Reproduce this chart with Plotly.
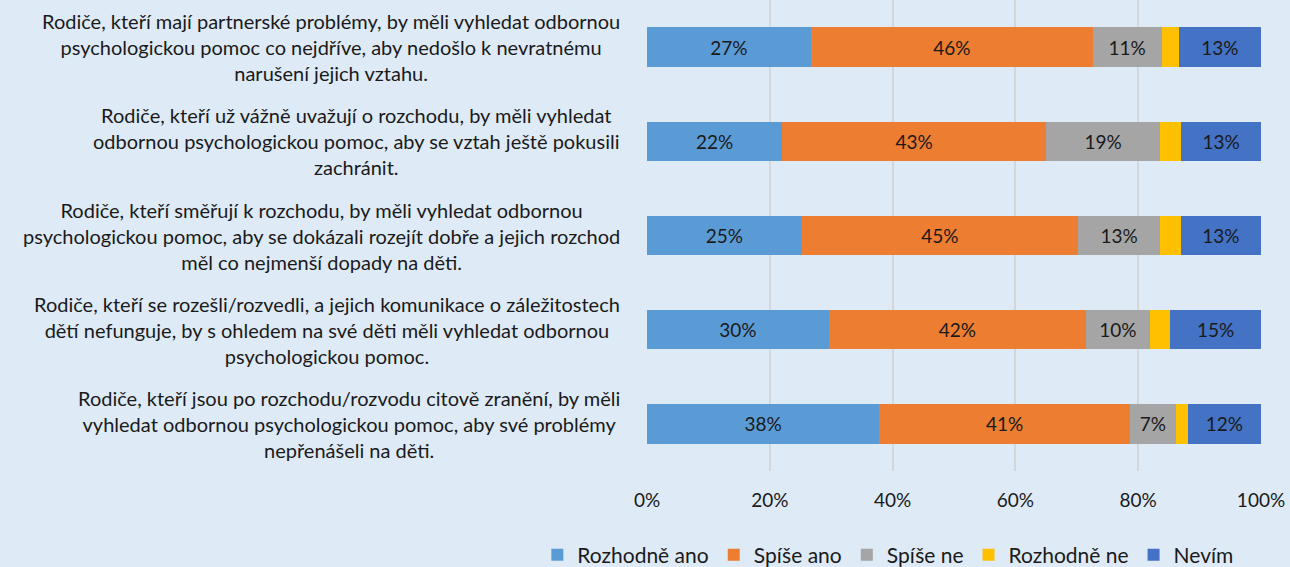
import plotly.graph_objects as go

categories = [
    "Rodiče, kteří mají partnerské problémy, by měli vyhledat odbornou<br>psychologickou pomoc co nejdříve, aby nedošlo k nevratnému<br>narušení jejich vztahu.",
    "Rodiče, kteří už vážně uvažují o rozchodu, by měli vyhledat<br>odbornou psychologickou pomoc, aby se vztah ještě pokusili<br>zachránit.",
    "Rodiče, kteří směřují k rozchodu, by měli vyhledat odbornou<br>psychologickou pomoc, aby se dokázali rozejít dobře a jejich rozchod<br>měl co nejmenší dopady na děti.",
    "Rodiče, kteří se rozešli/rozvedli, a jejich komunikace o záležitostech<br>dětí nefunguje, by s ohledem na své děti měli vyhledat odbornou<br>psychologickou pomoc.",
    "Rodiče, kteří jsou po rozchodu/rozvodu citově zranění, by měli<br>vyhledat odbornou psychologickou pomoc, aby své problémy<br>nepřenášeli na děti.",
]
cat_ids = ["c1", "c2", "c3", "c4", "c5"]

series_names = ["Rozhodně ano", "Spíše ano", "Spíše ne", "Rozhodně ne", "Nevím"]
rozhodne_ano = [26.7, 22.0, 25.2, 29.6, 37.8]
spise_ano = [45.9, 43.0, 45.0, 41.9, 40.9]
spise_ne = [11.2, 18.6, 13.4, 10.4, 7.4]
rozhodne_ne = [2.8, 3.4, 3.3, 3.3, 2.0]
nevim = [13.4, 13.0, 13.1, 14.8, 11.9]
show_labels = [True, True, True, False, True]

tick_vals = [0, 20, 40, 60, 80, 100]
tick_text = ["0%", "20%", "40%", "60%", "80%", "100%"]

colors = ["#5B9BD5", "#ED7D31", "#A5A5A5", "#FFC000", "#4472C4"]
FONT = "Lato, sans-serif"
TXT = "#1a1a1a"

fig = go.Figure()
for name, vals, col, show in zip(series_names,
                                 [rozhodne_ano, spise_ano, spise_ne, rozhodne_ne, nevim],
                                 colors, show_labels):
    fig.add_trace(go.Bar(
        y=cat_ids, x=vals, name=name, orientation="h",
        marker=dict(color=col, line=dict(width=0)),
        text=[f"{round(v)}%" for v in vals] if show else None,
        textposition="inside" if show else "none",
        insidetextanchor="middle",
        textfont=dict(family=FONT, size=19, color=TXT),
        constraintext="none",
        hoverinfo="x+name",
    ))

for cid, label in zip(cat_ids, categories):
    fig.add_annotation(
        x=-0.0407, y=cid, xref="paper", yref="y", text=label, showarrow=False,
        xanchor="right", yanchor="middle", align="center",
        font=dict(family=FONT, size=20, color=TXT),
    )

fig.update_layout(
    barmode="stack",
    width=1290, height=567,
    margin=dict(l=647, r=29, t=0, b=96, autoexpand=False),
    paper_bgcolor="#DEEAF6", plot_bgcolor="#DEEAF6",
    bargap=0.58,
    font=dict(family=FONT, size=19, color=TXT),
    xaxis=dict(range=[0, 100], tickvals=tick_vals, ticktext=tick_text,
               showgrid=True, gridcolor="#D3D7DC", gridwidth=2, zeroline=False,
               ticks="outside", ticklen=12, tickcolor="rgba(0,0,0,0)",
               tickfont=dict(family=FONT, size=19, color=TXT),
               fixedrange=True),
    yaxis=dict(categoryorder="array", categoryarray=cat_ids, autorange="reversed",
               showticklabels=False, showgrid=False, zeroline=False),
    legend=dict(orientation="h", xref="paper", x=-0.1786, xanchor="left",
                yref="paper", y=-0.1783, yanchor="middle",
                font=dict(family=FONT, size=21, color=TXT),
                traceorder="normal", itemwidth=30, bgcolor="rgba(0,0,0,0)"),
    showlegend=True,
)

fig.write_html("out.html", config={"displayModeBar": False},
               post_script="document.body.style.margin='0';")
